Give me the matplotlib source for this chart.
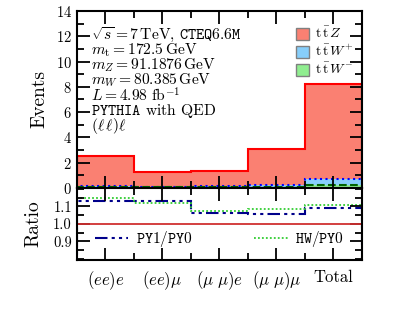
import numpy as np
import matplotlib
matplotlib.use("Agg")
import matplotlib.pyplot as plt
from matplotlib.patches import Patch
from matplotlib.lines import Line2D

plt.rcParams['font.family'] = 'serif'
plt.rcParams['font.serif'] = ['cmr10']
plt.rcParams['mathtext.fontset'] = 'cm'
plt.rcParams['axes.unicode_minus'] = False
plt.rcParams['axes.formatter.use_mathtext'] = True

categories = [r'$(ee)e$', r'$(ee)\mu$', r'$(\mu\ \mu)e$', r'$(\mu\ \mu)\mu$', 'Total']
ttZ = [2.55, 1.26, 1.36, 3.04, 8.23]
ttWp = [0.18, 0.10, 0.14, 0.22, 0.72]
ttWm = [0.08, 0.05, 0.06, 0.10, 0.24]
ratio_py = [1.133, 1.133, 1.061, 1.058, 1.093]
ratio_hw = [1.145, 1.118, 1.076, 1.084, 1.107]

edges = np.arange(len(categories) + 1)
centers = edges[:-1] + 0.5

fig = plt.figure(figsize=(4.09, 3.09), dpi=100)
ax = fig.add_axes([0.188, 0.392, 0.697, 0.572])
axr = fig.add_axes([0.188, 0.159, 0.697, 0.233], sharex=ax)

ax.stairs(ttZ, edges, fill=True, color='#FA8072', lw=0)
ax.stairs(ttZ, edges, color='red', lw=1.5)
ax.stairs(ttWp, edges, fill=True, color='#87CEFA', lw=0)
ax.stairs(ttWp, edges, color='blue', lw=1.5, ls=':')
ax.stairs(ttWm, edges, fill=True, color='#90EE90', lw=0)
ax.stairs(ttWm, edges, color='darkgreen', lw=1.5, ls='--')

ax.set_ylim(0, 14)
ax.set_xlim(0, 5)
ax.set_yticks(np.arange(0, 15, 2))
ax.set_yticks(np.arange(0, 15, 1), minor=True)
ax.set_ylabel('Events', fontsize=14)

txt = [r'$\sqrt{s} = 7\,\mathrm{TeV}$, $\mathtt{CTEQ6.6M}$',
       r'$m_{\mathrm{t}} = 172.5\,\mathrm{GeV}$',
       r'$m_Z = 91.1876\,\mathrm{GeV}$',
       r'$m_W = 80.385\,\mathrm{GeV}$',
       r'$L = 4.98\ \mathrm{fb}^{-1}$',
       r'$\mathtt{PYTHIA}$ with QED',
       r'$(\ell\,\ell)\ell$']
for i, t in enumerate(txt):
    ax.text(0.05, 0.865 - i * 0.0857, t, transform=ax.transAxes, fontsize=11.2, va='center', ha='left')

handles = [Patch(facecolor='#FA8072', edgecolor='gray'),
           Patch(facecolor='#87CEFA', edgecolor='gray'),
           Patch(facecolor='#90EE90', edgecolor='gray')]
labels = [r'$\mathrm{t}\,\bar{\mathrm{t}}\,Z$', r'$\mathrm{t}\,\bar{\mathrm{t}}\,W^{+}$',
          r'$\mathrm{t}\,\bar{\mathrm{t}}\,W^{-}$']
ax.legend(handles, labels, loc='upper left', bbox_to_anchor=(0.735, 0.97), frameon=False,
          fontsize=10, handlelength=0.9, handleheight=0.95, handletextpad=0.45, labelspacing=0.2,
          borderpad=0.2)

axr.axhline(1.0, color='#D03030', lw=1.3)
axr.stairs(ratio_py, edges, color='#00008B', lw=1.5, ls=(0, (6, 2, 1.5, 2, 1.5, 2)))
axr.stairs(ratio_hw, edges, color='#32CD32', lw=1.3, ls=(0, (1, 1.2)))
axr.set_ylim(0.795, 1.205)
axr.set_yticks([0.9, 1.0, 1.1])
axr.set_yticklabels(['0.9', '1.0', '1.1'])
axr.set_yticks(np.arange(0.8, 1.21, 0.05), minor=True)
axr.set_ylabel('Ratio', fontsize=14)

l1 = axr.legend([Line2D([], [], color='#00008B', lw=1.5, ls=(0, (6, 2, 1.5, 2, 1.5, 2)))],
                [r'$\mathtt{PY1/PY0}$'], loc='center left', bbox_to_anchor=(0.03, 0.29),
                frameon=False, fontsize=11, handlelength=2.2, handletextpad=0.5, borderpad=0.1)
axr.add_artist(l1)
axr.legend([Line2D([], [], color='#32CD32', lw=1.3, ls=(0, (1, 1.2)))],
           [r'$\mathtt{HW/PY0}$'], loc='center right', bbox_to_anchor=(0.97, 0.29),
           frameon=False, fontsize=11, handlelength=2.2, handletextpad=0.5, borderpad=0.1)

axr.set_xticks(centers)
axr.set_xticks(edges, minor=True)
axr.set_xticklabels(categories, fontsize=12)
plt.setp(ax.get_xticklabels(), visible=False)

for a in (ax, axr):
    for s in a.spines.values():
        s.set_linewidth(1.5)
    a.tick_params(which='both', direction='in', top=True, right=True, width=1.3, labelsize=10.5)
    a.tick_params(which='major', length=9)
    a.tick_params(which='minor', length=5)
axr.tick_params(axis='x', which='major', pad=7, labelsize=12)
ax.yaxis.set_label_coords(-0.10, 0.5)
axr.yaxis.set_label_coords(-0.12, 0.5)

fig.savefig('out.png', dpi=100)
